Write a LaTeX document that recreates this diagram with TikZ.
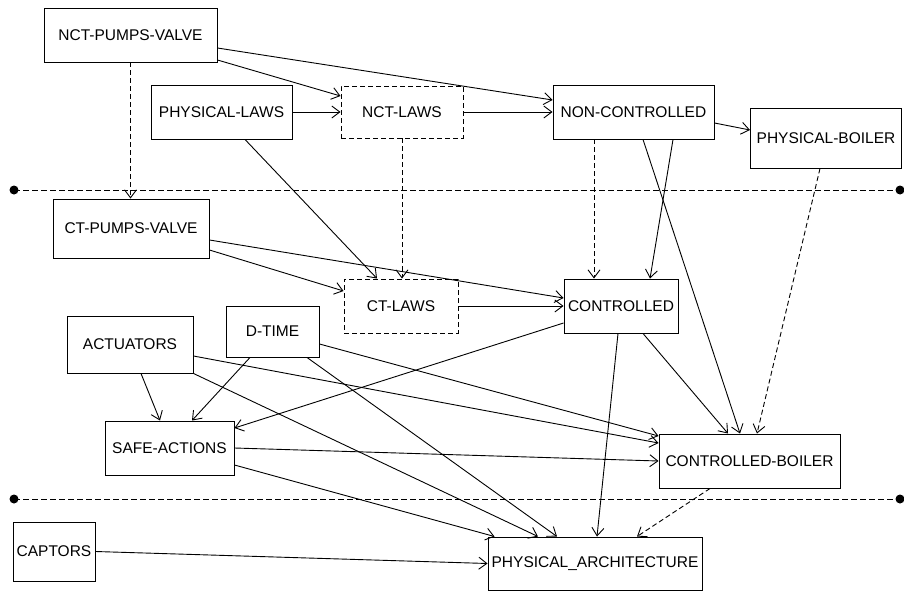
\documentclass[tikz,border=0pt]{standalone}
\usepackage{fontspec}
\setmainfont{Liberation Sans}
\usepackage{tikz}
\usetikzlibrary{arrows.meta,calc}

\begin{document}
\begin{tikzpicture}[x=1pt,y=-1pt,>={Straight Barb[length=8pt,width=12pt]},
  blk/.style={draw,line width=0.95pt,inner sep=1pt,font=\fontsize{15.5}{18}\selectfont},
  dblk/.style={blk,dash pattern=on 5pt off 3pt},
  arr/.style={->,line width=0.9pt},
  darr/.style={arr,dash pattern=on 5pt off 3pt},
  sep/.style={line width=0.9pt,dash pattern=on 6pt off 3pt}]
  \useasboundingbox (0,0) rectangle (904,591);
  % upper level
  \node[blk,minimum width=173pt,minimum height=54pt] (ncpv) at (130.5,35) {NCT-PUMPS-VALVE};
  \node[blk,minimum width=141pt,minimum height=54pt] (plaws) at (221.5,112) {PHYSICAL-LAWS};
  \node[dblk,minimum width=122pt,minimum height=52pt] (nctlaws) at (402,112) {NCT-LAWS};
  \node[blk,minimum width=161pt,minimum height=54pt] (nonctl) at (633.5,112) {NON-CONTROLLED};
  \node[blk,minimum width=151pt,minimum height=60pt] (pboiler) at (826,138) {PHYSICAL-BOILER};
  % middle level
  \node[blk,minimum width=156pt,minimum height=59pt] (ctpv) at (131,228.5) {CT-PUMPS-VALVE};
  \node[dblk,minimum width=114pt,minimum height=54pt] (ctlaws) at (401,306) {CT-LAWS};
  \node[blk,minimum width=114pt,minimum height=54pt] (ctl) at (621,306) {CONTROLLED};
  \node[blk,minimum width=93pt,minimum height=51pt] (dtime) at (272.5,331.5) {D-TIME};
  \node[blk,minimum width=126pt,minimum height=57pt] (act) at (130,344.5) {ACTUATORS};
  \node[blk,minimum width=129pt,minimum height=54pt] (safe) at (169.5,448) {SAFE-ACTIONS};
  \node[blk,minimum width=181pt,minimum height=54pt] (ctlboiler) at (749.5,461) {CONTROLLED-BOILER};
  % lower level
  \node[blk,minimum width=82pt,minimum height=59pt] (captors) at (54,551.5) {CAPTORS};
  \node[blk,minimum width=214pt,minimum height=53pt] (parch) at (595,563.5) {PHYSICAL\_ARCHITECTURE};
  % level separators
  \coordinate (s1l) at (14,190);
  \coordinate (s1r) at (900,190);
  \coordinate (s2l) at (14,499);
  \coordinate (s2r) at (900,499);
  \draw[sep] (s1l) -- (s1r);
  \draw[sep] (s2l) -- (s2r);
  \foreach \p in {s1l,s1r,s2l,s2r}
    \fill (\p) circle (4.5pt);
  % connectors
  \draw[arr] ([yshift=-25pt]ncpv.east) -- ([yshift=16pt]nctlaws.west);
  \draw[arr] ([yshift=-13pt]ncpv.east) -- ([yshift=12pt]nonctl.west);
  \draw[darr] (ncpv.south) -- (ncpv.south |- ctpv.north);
  \draw[arr] (plaws.east) -- (nctlaws.west);
  \draw[arr] ([xshift=23.5pt]plaws.south) -- ([xshift=-24pt]ctlaws.north);
  \draw[arr] (nctlaws.east) -- (nonctl.west);
  \draw[darr] (nctlaws.south) -- (nctlaws.south |- ctlaws.north);
  \draw[arr] ([yshift=-11pt]nonctl.east) -- ([yshift=8pt]pboiler.west);
  \draw[darr] ([xshift=-39.5pt]nonctl.south) -- ([xshift=-39.5pt]nonctl.south |- ctl.north);
  \draw[arr] ([xshift=39.5pt]nonctl.south) -- ([xshift=29pt]ctl.north);
  \draw[arr] ([xshift=9.5pt]nonctl.south) -- ([xshift=-9.5pt]ctlboiler.north);
  \draw[darr] ([xshift=-6pt]pboiler.south) -- ([xshift=7.5pt]ctlboiler.north);
  \draw[arr] ([yshift=-21.5pt]ctpv.east) -- ([yshift=15pt]ctlaws.west);
  \draw[arr] ([yshift=-11.5pt]ctpv.east) -- ([yshift=8pt]ctl.west);
  \draw[arr] (ctlaws.east) -- (ctl.west);
  \draw[arr] ([yshift=-17pt]ctl.west) -- ([yshift=20pt]safe.east);
  \draw[arr] ([xshift=22pt]ctl.south) -- ([xshift=-21.5pt]ctlboiler.north);
  \draw[arr] ([xshift=-3pt]ctl.south) -- ([xshift=2pt]parch.north);
  \draw[arr] ([xshift=11pt]act.south) -- ([xshift=-9.5pt]safe.north);
  \draw[arr] ([yshift=-11.5pt]act.east) -- ([yshift=18pt]ctlboiler.west);
  \draw[arr] (act.south east) -- ([xshift=-57pt]parch.north);
  \draw[arr] ([xshift=-22.5pt]dtime.south) -- ([xshift=22.5pt]safe.north);
  \draw[arr] ([yshift=-12.5pt]dtime.east) -- ([yshift=25pt]ctlboiler.west);
  \draw[arr] ([xshift=34.5pt]dtime.south) -- ([xshift=-38pt]parch.north);
  \draw[arr] (safe.east) -- (ctlboiler.west);
  \draw[arr] ([yshift=-17pt]safe.east) -- ([xshift=7pt]parch.north west);
  \draw[arr] (captors.east) -- (parch.west);
  \draw[darr] ([xshift=-39.5pt]ctlboiler.south) -- ([xshift=42pt]parch.north);
\end{tikzpicture}
\end{document}
